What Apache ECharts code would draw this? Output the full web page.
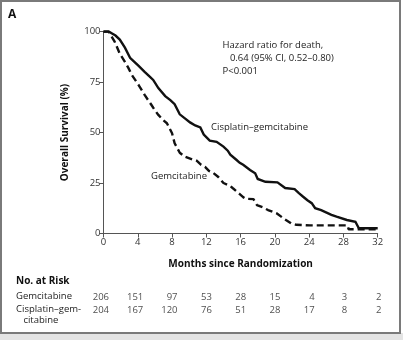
<!DOCTYPE html>
<html>
<head>
<meta charset="utf-8">
<script src="https://cdn.jsdelivr.net/npm/echarts@6/dist/echarts.min.js"></script>
<style>html,body{margin:0;padding:0;background:#fff}#c{width:403px;height:340px}</style>
</head>
<body>
<div id="c"></div>
<script>
const xTicks = [0, 4, 8, 12, 16, 20, 24, 28, 32];
const yTicks = [0, 25, 50, 75, 100];
const seriesNames = ['Gemcitabine', 'Cisplatin–gemcitabine'];
const cisplatinGem = [
  [0,100],[0.6,100],[1.0,99],[1.4,98],[1.9,96],[2.5,92],[3.1,87],[3.6,85],[4.1,83],[4.8,80],
  [5.3,78],[5.8,76],[6.4,72],[7.2,68],[7.8,66],[8.3,64],[8.9,59],[9.5,57],[10.1,55],[10.7,53.5],
  [11.3,52.5],[11.7,49],[12.4,46],[13.2,45.4],[14,43],[14.5,41],[14.8,39],[15.5,36.5],[15.9,35],
  [16.3,34],[17.1,31.4],[17.7,29.8],[18.0,27],[18.9,25.6],[20.3,25.3],[20.5,24.5],[21.2,22.5],[22.3,22],
  [22.8,20],[23.3,18.2],[23.8,16.5],[24.3,15],[24.7,12.5],[25.4,11.6],[26.6,9.2],[27.2,8.3],
  [28.4,6.7],[29.4,5.8],[29.6,5.5],[29.8,2.6],[32,2.6]
];
const gemcitabine = [
  [0,100],[0.6,100],[1.3,95],[1.9,89],[2.5,85],[2.9,82],[3.3,78.5],[4.1,73.5],[4.8,68.6],[5.6,63.6],
  [6.0,61],[6.4,58.7],[7.0,56],[7.4,54.6],[7.6,53.7],[8.0,49.6],[8.3,44.7],[8.9,40],[9.5,38],
  [10.5,36.4],[10.9,36],[11.4,34],[11.85,33],[12.3,31],[12.8,30],[13.4,28],[14,25],[14.8,23.5],
  [15.1,22.4],[15.9,19.5],[16.3,18],[16.6,17.2],[17.5,17],[17.9,14.1],[18.6,13],[19.2,11.6],
  [20.2,10],[21,7.5],[21.9,5],[22.5,4.3],[24.1,4.0],[28.5,4.0],[28.6,2.1],[32,2.1]
];
const riskGem = [206, 151, 97, 53, 28, 15, 4, 3, 2];
const riskCis = [204, 167, 120, 76, 51, 28, 17, 8, 2];
const hazardText = ['Hazard ratio for death,', '   0.64 (95% CI, 0.52–0.80)', 'P<0.001'];

const FONT = '"Open Sans", sans-serif';
const chart = echarts.init(document.getElementById('c'), null, {renderer: 'canvas'});

function riskPoints(arr, row) {
  return arr.map((v, i) => {
    const multi = i < 7;
    return {
      value: [xTicks[i], row],
      label: {
        formatter: String(v),
        align: multi ? 'right' : 'center',
        offset: multi ? [5.5, 0] : [1, 0]
      }
    };
  });
}

const option = {
  backgroundColor: '#fff',
  animation: false,
  grid: [
    {left: 103.5, right: 25.3, top: 31.5, bottom: 106.5, outerBoundsMode: 'none', containLabel: false},
    {left: 103.5, right: 25.3, top: 291.5, bottom: 23.9, outerBoundsMode: 'none', containLabel: false}
  ],
  xAxis: [
    {
      gridIndex: 0, type: 'value', min: 0, max: 32, interval: 4,
      name: 'Months since Randomization', nameLocation: 'middle', nameGap: 26,
      nameTextStyle: {fontFamily: FONT, fontWeight: 'bold', fontSize: 10, color: '#111'},
      axisLine: {show: true, lineStyle: {color: '#555', width: 1}},
      axisTick: {show: true, length: 4, lineStyle: {color: '#555'}},
      axisLabel: {fontFamily: FONT, fontSize: 9.5, color: '#333', margin: 4},
      splitLine: {show: false}
    },
    {
      gridIndex: 1, type: 'value', min: 0, max: 32, interval: 4, show: false
    }
  ],
  yAxis: [
    {
      gridIndex: 0, type: 'value', min: 0, max: 100, interval: 25,
      name: 'Overall Survival (%)', nameLocation: 'middle', nameGap: 33, nameRotate: 90,
      nameTextStyle: {fontFamily: FONT, fontWeight: 'bold', fontSize: 10, color: '#111'},
      axisLine: {show: true, lineStyle: {color: '#555', width: 1}},
      axisTick: {show: true, length: 4, lineStyle: {color: '#555'}},
      axisLabel: {fontFamily: FONT, fontSize: 9.5, color: '#333', margin: 3,
        formatter: v => yTicks.includes(v) ? String(v) : ''},
      splitLine: {show: false}
    },
    {
      gridIndex: 1, type: 'value', min: -0.5, max: 1.5, inverse: true, show: false
    }
  ],
  series: [
    {
      name: seriesNames[1], type: 'line', xAxisIndex: 0, yAxisIndex: 0,
      data: cisplatinGem, showSymbol: false, symbol: 'none',
      lineStyle: {color: '#111', width: 2.4, type: 'solid', join: 'miter'}, z: 3
    },
    {
      name: seriesNames[0], type: 'line', xAxisIndex: 0, yAxisIndex: 0,
      data: gemcitabine, showSymbol: false, symbol: 'none',
      lineStyle: {color: '#111', width: 2.4, type: [7, 4]}, z: 2
    },
    {
      type: 'scatter', xAxisIndex: 1, yAxisIndex: 1, symbolSize: 0,
      data: riskPoints(riskGem, 0).concat(riskPoints(riskCis, 1)),
      label: {show: true, position: 'inside', fontFamily: FONT, fontSize: 9.5, color: '#222'},
      silent: true
    }
  ],
  graphic: [
    {type: 'rect', shape: {x: 0, y: 333, width: 403, height: 7}, style: {fill: '#e4e4e4'}, silent: true},
    {type: 'rect', shape: {x: 1, y: 1, width: 399, height: 332}, style: {fill: 'none', stroke: '#7a7a7a', lineWidth: 2}, silent: true},
    {type: 'text', left: 8, top: 9, style: {text: 'A', font: 'bold 12px ' + FONT, fill: '#111'}},
    {type: 'text', left: 222.5, top: 39, style: {text: hazardText.join('\n'), font: '9.5px ' + FONT, fill: '#222', lineHeight: 13}},
    {type: 'text', left: 211, top: 122, style: {text: seriesNames[1], font: '9.5px ' + FONT, fill: '#222'}},
    {type: 'text', left: 151, top: 171, style: {text: seriesNames[0], font: '9.5px ' + FONT, fill: '#222'}},
    {type: 'text', left: 16, top: 276, style: {text: 'No. at Risk', font: 'bold 10px ' + FONT, fill: '#111'}},
    {type: 'text', left: 16, top: 291, style: {text: seriesNames[0], font: '9.5px ' + FONT, fill: '#222'}},
    {type: 'text', left: 16, top: 303.5, style: {text: 'Cisplatin–gem-\n   citabine', font: '9.5px ' + FONT, fill: '#222', lineHeight: 11}}
  ]
};
chart.setOption(option);
</script>
</body>
</html>
